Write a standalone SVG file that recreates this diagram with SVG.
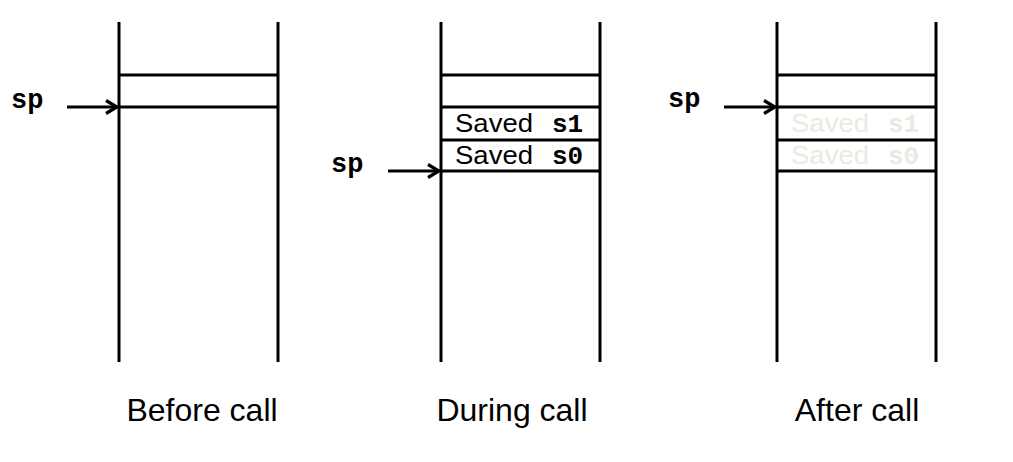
<svg xmlns="http://www.w3.org/2000/svg" width="1013" height="462" viewBox="0 0 1013 462">
<defs>
<style>
.ln{stroke:#000;stroke-width:3;fill:none}
.sp{font-family:"Liberation Mono",monospace;font-weight:bold;font-size:27px;fill:#000}
.sv{font-family:"Liberation Sans",Arial,sans-serif;font-size:26px;fill:#000}
.mono{font-family:"Liberation Mono",monospace;font-weight:bold;font-size:26px}
.fade{fill:#ebeadf}
.cap{font-family:"Liberation Sans",Arial,sans-serif;font-size:32px;fill:#000;text-anchor:middle}
</style>
<marker id="ah" markerWidth="16" markerHeight="16" refX="13" refY="8" orient="auto" markerUnits="userSpaceOnUse">
<path d="M2,1.5 L13,8 L2,14.5" fill="none" stroke="#000" stroke-width="3.2"/>
</marker>
</defs>
<rect width="1013" height="462" fill="#fff"/>
<g id="stack-before">
<line class="ln" x1="119" y1="22" x2="119" y2="362"/>
<line class="ln" x1="278" y1="22" x2="278" y2="362"/>
<line class="ln" x1="119" y1="75" x2="278" y2="75"/>
<line class="ln" x1="119" y1="107" x2="278" y2="107"/>
<text class="sp" x="11" y="108">sp</text>
<text class="cap" x="202" y="421">Before call</text>
</g>
<g id="stack-during">
<line class="ln" x1="441" y1="22" x2="441" y2="362"/>
<line class="ln" x1="600" y1="22" x2="600" y2="362"/>
<line class="ln" x1="441" y1="75" x2="600" y2="75"/>
<line class="ln" x1="441" y1="107" x2="600" y2="107"/>
<line class="ln" x1="441" y1="140" x2="600" y2="140"/>
<line class="ln" x1="441" y1="171" x2="600" y2="171"/>
<text class="sv" x="455" y="132"><tspan textLength="78" lengthAdjust="spacingAndGlyphs">Saved</tspan><tspan class="mono" x="552">s1</tspan></text>
<text class="sv" x="455" y="164"><tspan textLength="78" lengthAdjust="spacingAndGlyphs">Saved</tspan><tspan class="mono" x="552">s0</tspan></text>
<text class="sp" x="331" y="172">sp</text>
<text class="cap" x="512" y="421">During call</text>
</g>
<g id="stack-after">
<line class="ln" x1="777" y1="22" x2="777" y2="362"/>
<line class="ln" x1="936" y1="22" x2="936" y2="362"/>
<line class="ln" x1="777" y1="75" x2="936" y2="75"/>
<line class="ln" x1="777" y1="107" x2="936" y2="107"/>
<line class="ln" x1="777" y1="140" x2="936" y2="140"/>
<line class="ln" x1="777" y1="171" x2="936" y2="171"/>
<text class="sv fade" x="791" y="132"><tspan textLength="78" lengthAdjust="spacingAndGlyphs">Saved</tspan><tspan class="mono" x="888">s1</tspan></text>
<text class="sv fade" x="791" y="164"><tspan textLength="78" lengthAdjust="spacingAndGlyphs">Saved</tspan><tspan class="mono" x="888">s0</tspan></text>
<text class="sp" x="668" y="107">sp</text>
<text class="cap" x="857" y="421">After call</text>
</g>
<g id="connectors">
<line class="ln" x1="67" y1="107" x2="117" y2="107" marker-end="url(#ah)"/>
<line class="ln" x1="388" y1="171" x2="439" y2="171" marker-end="url(#ah)"/>
<line class="ln" x1="724" y1="107" x2="775" y2="107" marker-end="url(#ah)"/>
</g>
</svg>
